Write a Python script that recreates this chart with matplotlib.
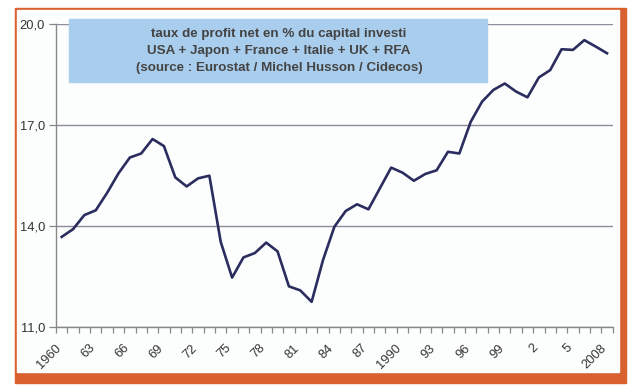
import matplotlib.pyplot as plt
from matplotlib.patches import Rectangle
from matplotlib.ticker import FuncFormatter
from matplotlib.transforms import ScaledTranslation

# Net profit rate, % of invested capital (1960-2008)
years = list(range(1960, 2009))
profit_rate = [13.67, 13.90, 14.32, 14.46, 14.98, 15.56, 16.03, 16.15, 16.58, 16.37,
               15.44, 15.17, 15.41, 15.49, 13.52, 12.46, 13.06, 13.19, 13.50, 13.24,
               12.20, 12.08, 11.74, 12.98, 13.97, 14.44, 14.64, 14.49, 15.11, 15.73,
               15.58, 15.34, 15.54, 15.65, 16.20, 16.15, 17.09, 17.69, 18.04, 18.23,
               17.99, 17.82, 18.41, 18.63, 19.25, 19.23, 19.52, 19.33, 19.13]
year_labels = ['1960', '63', '66', '69', '72', '75', '78', '81', '84', '87', '1990',
               '93', '96', '99', '2', '5', '2008']
y_ticks = [11, 14, 17, 20]
title_lines = ['taux de profit net en % du capital investi',
               'USA + Japon + France + Italie + UK + RFA',
               '(source : Eurostat / Michel Husson / Cidecos)']

W, H = 640, 392
plt.rcParams['font.family'] = ['Liberation Sans', 'DejaVu Sans']

fig = plt.figure(figsize=(W / 100, H / 100), dpi=100)
fig.patch.set_facecolor('white')

def px(x0, y0, x1, y1):
    # pixel box (top-left origin) -> figure fraction rectangle args
    return (x0 / W, 1 - y1 / H), (x1 - x0) / W, (y1 - y0) / H

# orange frame (thin top/left, thick right/bottom)
orange = '#d9602f'
xy, w, h = px(15, 8, 626, 383)
fig.patches.append(Rectangle(xy, w, h, transform=fig.transFigure, color=orange, zorder=-2))
xy, w, h = px(16.5, 9.5, 618.5, 372)
fig.patches.append(Rectangle(xy, w, h, transform=fig.transFigure, color='#fcfdfd', zorder=-1))

ax = fig.add_axes([56 / W, 1 - 326.7 / H, (612.7 - 56) / W, (326.7 - 24) / H])
ax.set_zorder(1)
ax.set_facecolor('none')

x = list(range(len(years)))
ax.plot(x, profit_rate, color='#2b2d5e', lw=1.9, zorder=3)

ax.set_xlim(-0.5, len(years) - 0.5)
ax.set_ylim(11, 20)

ax.set_yticks(y_ticks)
ax.yaxis.set_major_formatter(FuncFormatter(lambda v, p: f'{v:.1f}'.replace('.', ',')))
ax.grid(axis='y', color='#8c8c9c', lw=1.0)
ax.set_axisbelow(True)

ax.set_xticks(x[::3])
ax.set_xticklabels(year_labels, rotation=45, ha='right', va='top', rotation_mode='anchor')
ax.set_xticks([i - 0.5 for i in range(len(years) + 1)], minor=True)
ax.tick_params(axis='x', which='major', length=0, pad=11, labelsize=9.3, labelcolor='#333333')
ax.tick_params(axis='x', which='minor', length=4, width=0.9, color='#888888')
ax.tick_params(axis='y', length=5, width=0.9, color='#888888', labelsize=9.3,
               labelcolor='#333333', pad=3)
shift = ScaledTranslation(-5 / 72, 0, fig.dpi_scale_trans)
for lbl in ax.get_xticklabels():
    lbl.set_transform(lbl.get_transform() + shift)

for s in ['top', 'right']:
    ax.spines[s].set_visible(False)
for s in ['left', 'bottom']:
    ax.spines[s].set_color('#888888')
    ax.spines[s].set_linewidth(1.0)

# title box
xy, w, h = px(69, 19, 487, 82)
fig.patches.append(Rectangle(xy, w, h, transform=fig.transFigure, color='#a9cdec', zorder=5))
for i, line in enumerate(title_lines):
    fig.text(279 / W, 1 - (34 + i * 17) / H, line, ha='center', va='center',
             fontsize=9.6, fontweight='bold', color='#444444', zorder=6)

fig.savefig('out.png', dpi=100)
